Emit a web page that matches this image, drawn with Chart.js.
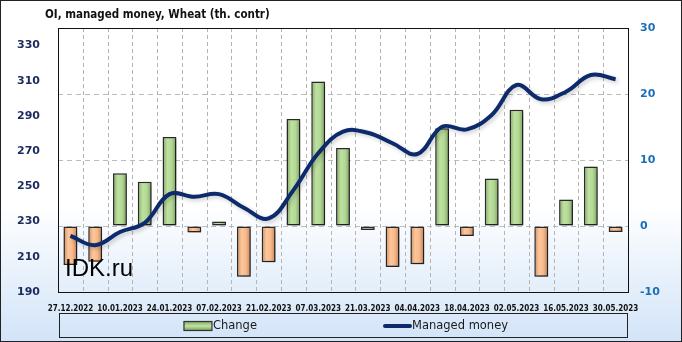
<!DOCTYPE html>
<html>
<head>
<meta charset="utf-8">
<script src="https://cdn.jsdelivr.net/npm/chart.js@4.4.0/dist/chart.umd.min.js"></script>
<style>
  html, body { margin: 0; padding: 0; background: #fff; }
  #wrap { width: 682px; height: 342px; }
</style>
</head>
<body>
<div id="wrap"><canvas id="myChart" width="682" height="342"></canvas></div>
<script>
const dates = ['27.12.2022', '03.01.2023', '10.01.2023', '17.01.2023', '24.01.2023', '31.01.2023',
  '07.02.2023', '14.02.2023', '21.02.2023', '28.02.2023', '07.03.2023', '14.03.2023',
  '21.03.2023', '28.03.2023', '04.04.2023', '11.04.2023', '18.04.2023', '25.04.2023',
  '02.05.2023', '09.05.2023', '16.05.2023', '23.05.2023', '30.05.2023'];
// weekly change, th. contracts (right axis)
const change = [-5.9, -5.4, 8.0, 6.7, 13.5, -1.0, 0.7, -7.7, -5.5, 16.2, 21.9, 11.8,
  -0.6, -6.2, -5.8, 14.8, -1.5, 7.2, 17.6, -7.7, 4.0, 9.0, -0.9];
// open interest of managed money, th. contracts (left axis)
const managedMoney = [221.9, 216.6, 224.1, 229.3, 245.6, 244.1, 245.6, 237.9, 231.8, 247.9, 268.8, 281.1,
  280.5, 274.5, 268.4, 283.9, 282.4, 290.6, 307.6, 299.5, 303.8, 313.3, 310.9];
const leftTicks = [190, 210, 230, 250, 270, 290, 310, 330];
const rightTicks = [-10, 0, 10, 20, 30];

const ctx = document.getElementById('myChart');

function barFill(c) {
  const chart = c.chart;
  if (!chart.chartArea) return '#a9d18e';
  const v = c.raw;
  const x = chart.scales.x.getPixelForValue(c.dataIndex);
  const g = chart.ctx.createLinearGradient(x - 7, 0, x + 7, 0);
  if (v >= 0) {
    g.addColorStop(0, '#7ea95d');
    g.addColorStop(0.35, '#bfe0a2');
    g.addColorStop(0.65, '#b3d895');
    g.addColorStop(1, '#76a056');
  } else {
    g.addColorStop(0, '#d08a58');
    g.addColorStop(0.35, '#fcc79c');
    g.addColorStop(0.65, '#f8b98a');
    g.addColorStop(1, '#c67f4e');
  }
  return g;
}

const bgPlugin = {
  id: 'bg',
  beforeDraw(chart) {
    const c = chart.ctx;
    const g = c.createLinearGradient(0, 0, 0, chart.height);
    g.addColorStop(0, '#ffffff');
    g.addColorStop(0.6, '#ffffff');
    g.addColorStop(1, '#d2e4f8');
    c.save();
    c.fillStyle = g;
    c.fillRect(0, 0, chart.width, chart.height);
    c.restore();
  },
  // dashed separators between the weeks
  beforeDatasetsDraw(chart) {
    const c = chart.ctx;
    const a = chart.chartArea;
    const xs = chart.scales.x;
    c.save();
    c.strokeStyle = '#b4b4b4';
    c.lineWidth = 1;
    c.setLineDash([4, 3]);
    for (let i = 0; i < dates.length - 1; i++) {
      const px = Math.round((xs.getPixelForValue(i) + xs.getPixelForValue(i + 1)) / 2) + 0.5;
      c.beginPath();
      c.moveTo(px, a.top);
      c.lineTo(px, a.bottom);
      c.stroke();
    }
    c.restore();
  }
};

const shadowPlugin = {
  id: 'shadow',
  beforeDatasetDraw(chart, args) {
    const c = chart.ctx;
    c.save();
    c.shadowColor = args.index === 1 ? 'rgba(0,0,0,0.2)' : 'rgba(0,0,0,0.35)';
    c.shadowBlur = 4;
    c.shadowOffsetX = 2;
    c.shadowOffsetY = 2;
  },
  afterDatasetDraw(chart) {
    chart.ctx.restore();
  }
};

const decorPlugin = {
  id: 'decor',
  afterDraw(chart) {
    const c = chart.ctx;
    const a = chart.chartArea;
    c.save();
    // watermark
    c.fillStyle = '#000';
    c.font = '24px "Liberation Sans", Arial, sans-serif';
    c.textBaseline = 'alphabetic';
    c.textAlign = 'left';
    c.fillText('IDK.ru', 65, 276);

    // plot frame and outer frame
    c.strokeStyle = '#111';
    c.lineWidth = 1;
    c.strokeRect(Math.round(a.left) + 0.5, Math.round(a.top) + 0.5, Math.round(a.right - a.left), Math.round(a.bottom - a.top));
    c.strokeStyle = '#222';
    c.strokeRect(0.5, 0.5, chart.width - 1, chart.height - 1);

    // title
    c.fillStyle = '#111';
    c.font = 'bold 11.5px "DejaVu Sans Condensed", "Liberation Sans", sans-serif';
    c.textBaseline = 'middle';
    c.fillText('OI, managed money, Wheat (th. contr)', 45, 15);

    // legend box
    c.strokeStyle = '#222';
    c.strokeRect(59.5, 313.5, 568, 24);
    const ds = chart.data.datasets;
    c.font = '11.5px "DejaVu Sans", sans-serif';
    const sw = 28, gap = 126;
    const w1 = sw + 1 + c.measureText(ds[0].label).width;
    const w2 = sw + 1 + c.measureText(ds[1].label).width;
    let x = 346 - (w1 + gap + w2) / 2;
    const cy = 326;
    // bar swatch
    const g = c.createLinearGradient(0, cy - 4.5, 0, cy + 4.5);
    g.addColorStop(0, '#7ea95d');
    g.addColorStop(0.5, '#c4e3a8');
    g.addColorStop(1, '#76a056');
    c.fillStyle = g;
    c.fillRect(x, cy - 4.5, sw, 9);
    c.strokeStyle = '#333';
    c.lineWidth = 1.2;
    c.strokeRect(x, cy - 4.5, sw, 9);
    c.fillStyle = '#1a1a1a';
    c.fillText(ds[0].label, x + sw + 1, cy);
    x += w1 + gap;
    // line swatch
    c.strokeStyle = ds[1].borderColor;
    c.lineWidth = 4;
    c.lineCap = 'round';
    c.beginPath();
    c.moveTo(x + 2, cy);
    c.lineTo(x + sw - 1, cy);
    c.stroke();
    c.fillText(ds[1].label, x + sw + 1, cy);
    c.restore();
  }
};

new Chart(ctx, {
  type: 'bar',
  data: {
    labels: dates,
    datasets: [{
      type: 'bar',
      label: 'Change',
      data: change,
      yAxisID: 'y1',
      backgroundColor: barFill,
      borderColor: '#2a2a2a',
      borderWidth: 1.5,
      borderSkipped: false,
      barPercentage: 0.56,
      categoryPercentage: 1,
      order: 1
    }, {
      type: 'line',
      label: 'Managed money',
      data: managedMoney,
      yAxisID: 'y',
      borderColor: '#0c2a6c',
      borderWidth: 4,
      tension: 0.4,
      pointRadius: 0,
      fill: false,
      order: 0
    }]
  },
  options: {
    responsive: false,
    animation: false,
    devicePixelRatio: 1,
    layout: { padding: { top: 28, bottom: 30, left: 0, right: 0 } },
    plugins: {
      legend: { display: false },
      tooltip: { enabled: false }
    },
    scales: {
      x: {
        offset: true,
        grid: { display: false },
        border: { display: false },
        ticks: {
          autoSkip: false,
          maxRotation: 0,
          padding: 4,
          color: '#111',
          font: { family: '"DejaVu Sans Condensed", "DejaVu Sans"', size: 8, weight: 'bold' },
          callback: (v, i) => i % 2 === 0 ? dates[i] : ''
        },
        afterFit: s => { s.height = 20; }
      },
      y: {
        position: 'left',
        min: 190,
        max: 340,
        grid: { display: false },
        border: { display: false },
        afterBuildTicks: s => { s.ticks = leftTicks.map(v => ({ value: v })); },
        ticks: {
          padding: 10,
          color: '#1c2b5e',
          font: { family: 'DejaVu Sans', size: 11, weight: 'bold' }
        },
        afterFit: s => { s.width = 58; }
      },
      y1: {
        position: 'right',
        min: -10,
        max: 30,
        grid: {
          drawTicks: false,
          color: c => (c.tick && c.tick.value > -10 && c.tick.value < 30) ? '#bcbcbc' : 'rgba(0,0,0,0)'
        },
        border: { display: false, dash: [5, 4] },
        afterBuildTicks: s => { s.ticks = rightTicks.map(v => ({ value: v })); },
        ticks: {
          padding: 12,
          color: '#1a6fb8',
          font: { family: 'DejaVu Sans', size: 11, weight: 'bold' }
        },
        afterFit: s => { s.width = 54; }
      }
    }
  },
  plugins: [bgPlugin, shadowPlugin, decorPlugin]
});
</script>
</body>
</html>
